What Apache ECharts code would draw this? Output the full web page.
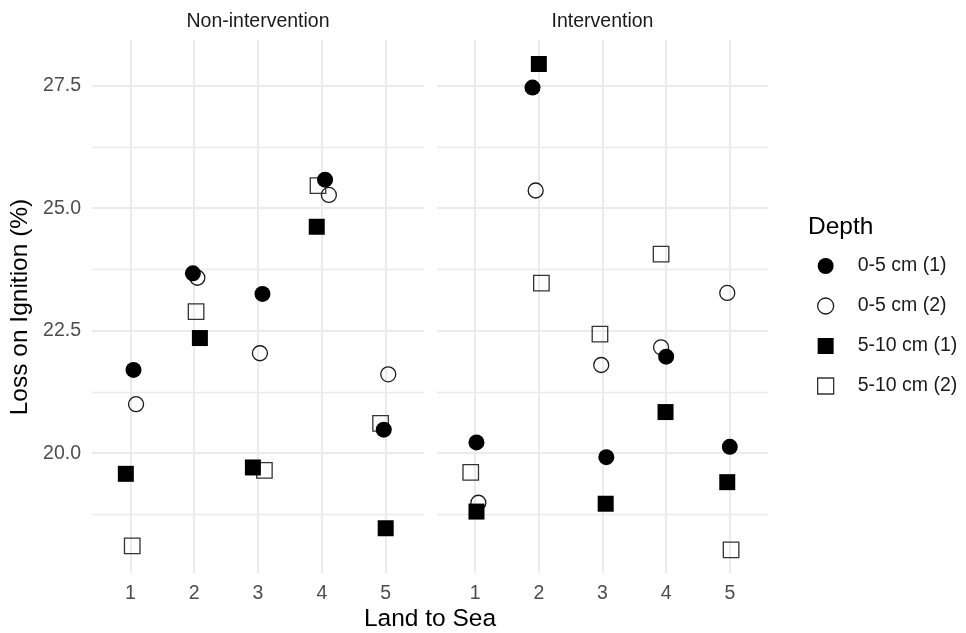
<!DOCTYPE html>
<html>
<head>
<meta charset="utf-8">
<script src="https://cdn.jsdelivr.net/npm/echarts@6/dist/echarts.min.js"></script>
<style>html,body{margin:0;padding:0;background:#fff}#c{width:966px;height:633px}</style>
</head>
<body>
<div id="c"></div>
<script>
// ---- data ----
const depthNames = ['0-5 cm (1)', '0-5 cm (2)', '5-10 cm (1)', '5-10 cm (2)'];
const panelNames = ['Non-intervention', 'Intervention'];
const xTicks = [1, 2, 3, 4, 5];
const yTicks = [20, 22.5, 25, 27.5];
const yMinorTicks = [18.75, 21.25, 23.75, 26.25];

// Non-intervention: Loss on Ignition values at sites 1..5
const nonInt_0_5_1 = [21.70, 23.67, 23.25, 25.58, 20.48];
const nonInt_0_5_2 = [21.00, 23.58, 22.04, 25.27, 21.61];
const nonInt_5_10_1 = [19.58, 22.35, 19.71, 24.62, 18.47];
const nonInt_5_10_2 = [18.11, 22.89, 19.65, 25.46, 20.61];
// Non-intervention: jittered x positions
const nonIntX_0_5_1 = [1.05, 1.98, 3.07, 4.05, 4.97];
const nonIntX_0_5_2 = [1.09, 2.05, 3.03, 4.11, 5.04];
const nonIntX_5_10_1 = [0.93, 2.09, 2.92, 3.92, 5.00];
const nonIntX_5_10_2 = [1.03, 2.03, 3.10, 3.94, 4.92];

// Intervention
const int_0_5_1 = [20.22, 27.46, 19.92, 21.97, 20.13];
const int_0_5_2 = [18.99, 25.36, 21.80, 22.16, 23.27];
const int_5_10_1 = [18.81, 27.94, 18.97, 20.84, 19.41];
const int_5_10_2 = [19.61, 23.47, 22.43, 24.06, 18.03];
const intX_0_5_1 = [1.02, 1.90, 3.06, 4.00, 5.00];
const intX_0_5_2 = [1.05, 1.95, 2.98, 3.92, 4.96];
const intX_5_10_1 = [1.02, 2.00, 3.05, 3.99, 4.96];
const intX_5_10_2 = [0.93, 2.04, 2.96, 3.92, 5.02];

// ---- styling ----
const FONT = 'Liberation Sans, Arial, Helvetica, sans-serif';
const X_MIN = 0.4, X_MAX = 5.6, Y_MIN = 17.557, Y_MAX = 28.43;

const symbolStyles = {
  '0-5 cm (1)': { symbol: 'circle', symbolSize: 16, itemStyle: { color: '#000', borderWidth: 0, opacity: 1 } },
  '0-5 cm (2)': { symbol: 'circle', symbolSize: 15, itemStyle: { color: 'rgba(255,255,255,0)', borderColor: '#1a1a1a', borderWidth: 1.3, opacity: 1 } },
  '5-10 cm (1)': { symbol: 'rect', symbolSize: 16, itemStyle: { color: '#000', borderWidth: 0, opacity: 1 } },
  '5-10 cm (2)': { symbol: 'rect', symbolSize: 15.5, itemStyle: { color: 'rgba(255,255,255,0)', borderColor: '#333', borderWidth: 1.3, opacity: 1 } }
};

const panelSeries = [
  { '0-5 cm (1)': [nonIntX_0_5_1, nonInt_0_5_1], '0-5 cm (2)': [nonIntX_0_5_2, nonInt_0_5_2],
    '5-10 cm (1)': [nonIntX_5_10_1, nonInt_5_10_1], '5-10 cm (2)': [nonIntX_5_10_2, nonInt_5_10_2] },
  { '0-5 cm (1)': [intX_0_5_1, int_0_5_1], '0-5 cm (2)': [intX_0_5_2, int_0_5_2],
    '5-10 cm (1)': [intX_5_10_1, int_5_10_1], '5-10 cm (2)': [intX_5_10_2, int_5_10_2] }
];

const drawOrder = ['0-5 cm (2)', '5-10 cm (2)', '5-10 cm (1)', '0-5 cm (1)'];

const gridBoxes = [
  { left: 92, width: 332, top: 40, height: 533 },
  { left: 437, width: 331, top: 40, height: 533 }
];

const series = [];
panelSeries.forEach((ps, gi) => {
  // gridlines
  const lines = [];
  yTicks.forEach(v => lines.push([{ coord: [X_MIN, v], lineStyle: { width: 2 } }, { coord: [X_MAX, v] }]));
  yMinorTicks.forEach(v => lines.push([{ coord: [X_MIN, v], lineStyle: { width: 1.4 } }, { coord: [X_MAX, v] }]));
  xTicks.forEach(v => lines.push([{ coord: [v, Y_MIN], lineStyle: { width: 2 } }, { coord: [v, Y_MAX] }]));
  series.push({
    type: 'scatter', name: '_grid' + gi, xAxisIndex: gi, yAxisIndex: gi, data: [], z: 1, silent: true,
    markLine: { z: 1, silent: true, symbol: ['none', 'none'], label: { show: false }, animation: false,
      lineStyle: { color: '#ebebeb', type: 'solid', width: 2 }, emphasis: { disabled: true }, data: lines }
  });
  drawOrder.forEach(name => {
    const [xs, ys] = ps[name];
    const st = symbolStyles[name];
    series.push({
      type: 'scatter', name: name, xAxisIndex: gi, yAxisIndex: gi, z: 10,
      symbol: st.symbol, symbolSize: st.symbolSize, itemStyle: st.itemStyle,
      emphasis: { disabled: true },
      data: xs.map((x, i) => [x, ys[i]])
    });
  });
});

const xAxes = gridBoxes.map((g, i) => ({
  type: 'value', gridIndex: i, min: X_MIN, max: X_MAX,
  axisLine: { show: false }, axisTick: { show: false }, splitLine: { show: false },
  axisLabel: { customValues: xTicks, margin: 11, color: '#4d4d4d', fontSize: 19.5, fontFamily: FONT,
    formatter: v => String(Math.round(v)) }
}));
const yAxes = gridBoxes.map((g, i) => ({
  type: 'value', gridIndex: i, min: Y_MIN, max: Y_MAX,
  axisLine: { show: false }, axisTick: { show: false }, splitLine: { show: false },
  axisLabel: { show: i === 0, customValues: yTicks, margin: 11, color: '#4d4d4d', fontSize: 19.5, fontFamily: FONT,
    formatter: v => v.toFixed(1) }
}));

const legendData = depthNames.map(n => ({
  name: n, icon: symbolStyles[n].symbol, itemStyle: symbolStyles[n].itemStyle
}));

const option = {
  animation: false,
  backgroundColor: '#fff',
  grid: gridBoxes.map(g => Object.assign({ containLabel: false }, g)),
  xAxis: xAxes,
  yAxis: yAxes,
  legend: {
    orient: 'vertical', left: 817, top: 256, padding: 0,
    itemWidth: 16, itemHeight: 16, itemGap: 20,
    data: legendData,
    textStyle: { fontSize: 19.5, fontFamily: FONT, color: '#1a1a1a', lineHeight: 20, padding: [0, 0, 0, 19] },
    selectedMode: false
  },
  graphic: [
    { type: 'text', x: 258, y: 22, style: { text: panelNames[0], fontSize: 19.5, fontFamily: FONT, fill: '#1a1a1a', align: 'center', verticalAlign: 'middle', textAlign: 'center', textVerticalAlign: 'middle' } },
    { type: 'text', x: 602.5, y: 22, style: { text: panelNames[1], fontSize: 19.5, fontFamily: FONT, fill: '#1a1a1a', align: 'center', verticalAlign: 'middle', textAlign: 'center', textVerticalAlign: 'middle' } },
    { type: 'text', x: 430, y: 619, style: { text: 'Land to Sea', fontSize: 24.5, fontFamily: FONT, fill: '#000', align: 'center', verticalAlign: 'middle', textAlign: 'center', textVerticalAlign: 'middle' } },
    { type: 'text', x: 20, y: 307, rotation: Math.PI / 2, style: { text: 'Loss on Ignition (%)', fontSize: 24.5, fontFamily: FONT, fill: '#000', align: 'center', verticalAlign: 'middle', textAlign: 'center', textVerticalAlign: 'middle' } },
    { type: 'text', x: 808, y: 227, style: { text: 'Depth', fontSize: 24.5, fontFamily: FONT, fill: '#000', align: 'left', verticalAlign: 'middle', textAlign: 'left', textVerticalAlign: 'middle' } }
  ],
  series: series
};

const chart = echarts.init(document.getElementById('c'), null, { renderer: 'canvas' });
chart.setOption(option);
</script>
</body>
</html>
